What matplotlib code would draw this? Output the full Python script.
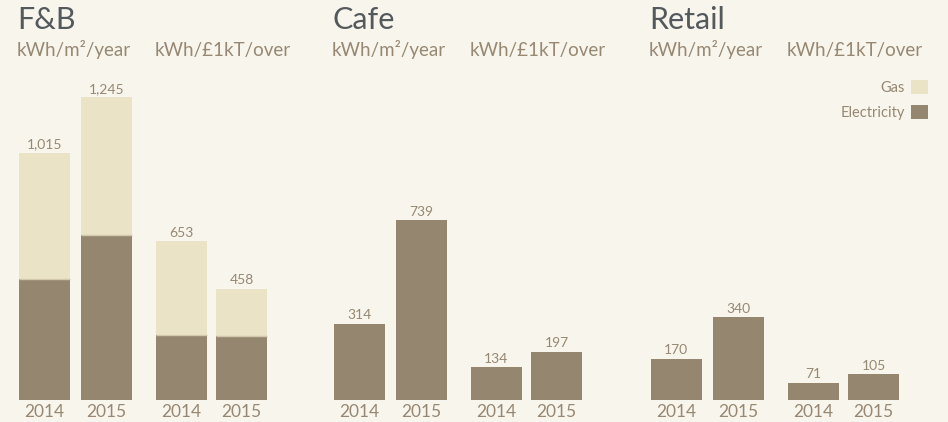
import matplotlib.pyplot as plt
from matplotlib.patches import Patch

plt.rcParams['font.family'] = ['Lato', 'DejaVu Sans']

# Energy use by sector, split into electricity and gas
sectors = ["F&B", "Cafe", "Retail"]
metrics = ["kWh/m\u00b2/year", "kWh/\u00a31kT/over"]
years = ["2014", "2015"]

# per sector: [m2 2014, m2 2015, turnover 2014, turnover 2015]
totals = {
    "F&B": [1015, 1245, 653, 458],
    "Cafe": [314, 739, 134, 197],
    "Retail": [170, 340, 71, 105],
}
electricity = {
    "F&B": [497, 677, 269, 263],
    "Cafe": [314, 739, 134, 197],
    "Retail": [170, 340, 71, 105],
}
gas = {s: [t - e for t, e in zip(totals[s], electricity[s])] for s in sectors}

bg = "#f8f5ed"
elec_col = "#958670"
gas_col = "#ebe3c5"
label_col = "#968872"
title_col = "#54595c"

W, H = 948, 422
fig = plt.figure(figsize=(W / 100, H / 100), dpi=100, facecolor=bg)

panel_left = [19, 334, 651]
xpos = [0, 1, 2.21, 3.18]
bar_w = 0.82
unit = 62.0  # pixels per x unit
base_px = 22
ymax = 400 / 0.243

for i, s in enumerate(sectors):
    left = panel_left[i]
    ax = fig.add_axes([left / W, base_px / H, 270 / W, 400 / H])
    ax.set_facecolor(bg)
    ax.set_xlim(-bar_w / 2, -bar_w / 2 + 270 / unit)
    ax.set_ylim(0, ymax)
    ax.axis("off")

    ax.bar(xpos, electricity[s], width=bar_w, color=elec_col, linewidth=0)
    ax.bar(xpos, gas[s], width=bar_w, bottom=electricity[s], color=gas_col,
           linewidth=0)
    # thin seam between stacked segments
    for x, e, g in zip(xpos, electricity[s], gas[s]):
        if g > 0:
            ax.plot([x - bar_w / 2, x + bar_w / 2], [e, e], color="#d3c9ad",
                    lw=1, solid_capstyle="butt")

    for x, t in zip(xpos, totals[s]):
        ax.annotate(f"{t:,}", (x, t), xytext=(0, 2), textcoords="offset points",
                    ha="center", va="bottom", fontsize=10, color=label_col)

    for x, yr in zip(xpos, years * 2):
        ax.annotate(yr, (x, 0), xytext=(0, -3), textcoords="offset points",
                    ha="center", va="top", fontsize=12.5, color=label_col)

    fig.text((left - 2) / W, (H - 29) / H, s, fontsize=22, color=title_col,
             va="baseline", ha="left")
    fig.text((left - 2) / W, (H - 56) / H, metrics[0], fontsize=13.5,
             color=label_col, va="baseline", ha="left")
    fig.text((left + 136) / W, (H - 56) / H, metrics[1], fontsize=13.5,
             color=label_col, va="baseline", ha="left")

handles = [Patch(facecolor=gas_col, label="Gas"),
           Patch(facecolor=elec_col, label="Electricity")]
fig.legend(handles=handles, loc="upper right", frameon=False,
           markerfirst=False, fontsize=10.5, labelcolor=label_col,
           handlelength=1.15, handleheight=1.15, handletextpad=0.45,
           labelspacing=0.65, borderaxespad=0, borderpad=0,
           bbox_to_anchor=(928 / W, (H - 80) / H))

fig.savefig("out.png", dpi=100, facecolor=bg)
